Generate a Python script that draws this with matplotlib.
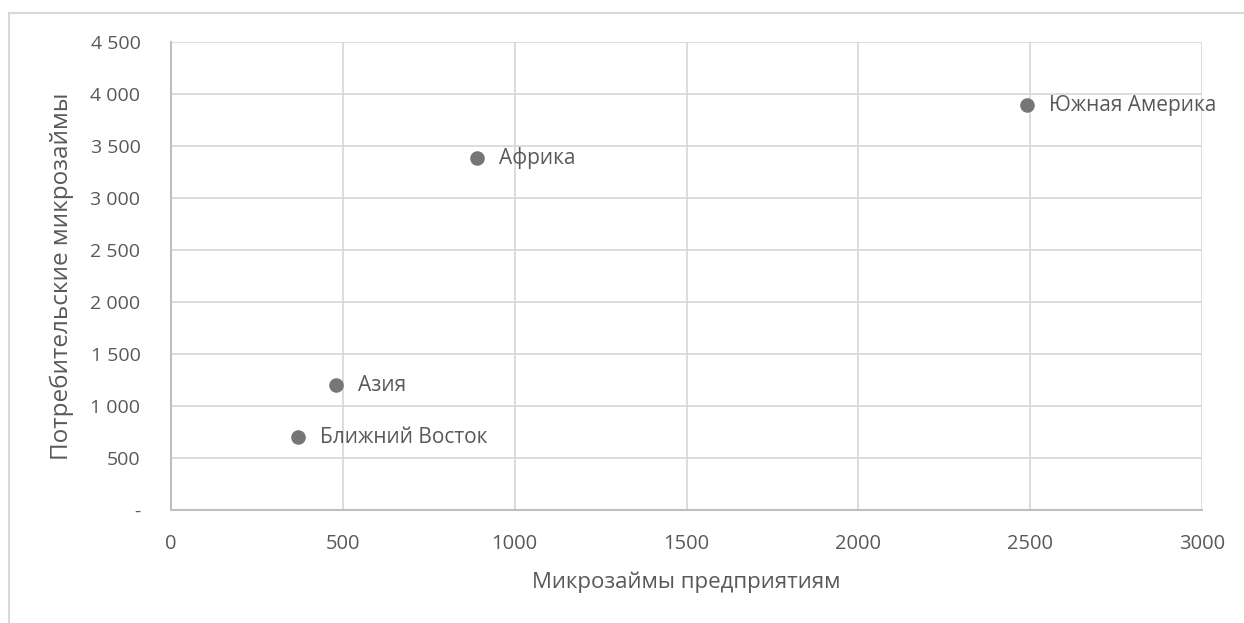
import matplotlib.pyplot as plt
from matplotlib.lines import Line2D
from matplotlib.ticker import FuncFormatter

regions = ['Ближний Восток', 'Азия', 'Африка', 'Южная Америка']
business_loans = [370, 480, 890, 2490]
consumer_loans = [700, 1200, 3380, 3890]

x_ticks = [0, 500, 1000, 1500, 2000, 2500, 3000]
y_ticks = [0, 500, 1000, 1500, 2000, 2500, 3000, 3500, 4000, 4500]

text_col = '#595959'
grid_col = '#d9d9d9'
plt.rcParams['font.family'] = ['Open Sans', 'DejaVu Sans']

fig = plt.figure(figsize=(12.44, 6.23), dpi=100)
ax = fig.add_axes([171 / 1244, 1 - 510 / 623, (1202 - 171) / 1244, (510 - 42) / 623])

ax.scatter(business_loans, consumer_loans, s=110, color='#767676', zorder=3, linewidths=0)
for name, x, y in zip(regions, business_loans, consumer_loans):
  ax.annotate(name, (x, y), xytext=(16, 0), textcoords='offset points',
              ha='left', va='center', fontsize=15, color=text_col)

ax.set_xlim(0, 3000)
ax.set_ylim(0, 4500)
ax.set_xticks(x_ticks)
ax.set_yticks(y_ticks)

def fmt_y(v, pos):
  if v == 0:
    return '-'
  return '{:,.0f}'.format(v).replace(',', ' ')

ax.yaxis.set_major_formatter(FuncFormatter(fmt_y))
ax.tick_params(length=0, labelcolor=text_col)
ax.tick_params(axis='x', pad=17, labelsize=14.5)
ax.tick_params(axis='y', pad=22, labelsize=14)
ax.grid(True, color=grid_col, linewidth=1.3)
ax.set_axisbelow(True)
for side in ['top', 'right']:
  ax.spines[side].set_visible(False)
for side in ['left', 'bottom']:
  ax.spines[side].set_color('#bfbfbf')
  ax.spines[side].set_linewidth(1.5)

ax.set_xlabel('Микрозаймы предприятиям', fontsize=16, color=text_col, labelpad=13)
ax.set_ylabel('Потребительские микрозаймы', fontsize=17.5, color=text_col, labelpad=12)

# outer chart frame (only top and left edges are visible in the crop)
fig.add_artist(Line2D([9 / 1244, 1], [1 - 13 / 623, 1 - 13 / 623], color=grid_col, linewidth=1.5))
fig.add_artist(Line2D([9 / 1244, 9 / 1244], [0, 1 - 13 / 623], color=grid_col, linewidth=1.5))

fig.savefig('out.png', dpi=100)
